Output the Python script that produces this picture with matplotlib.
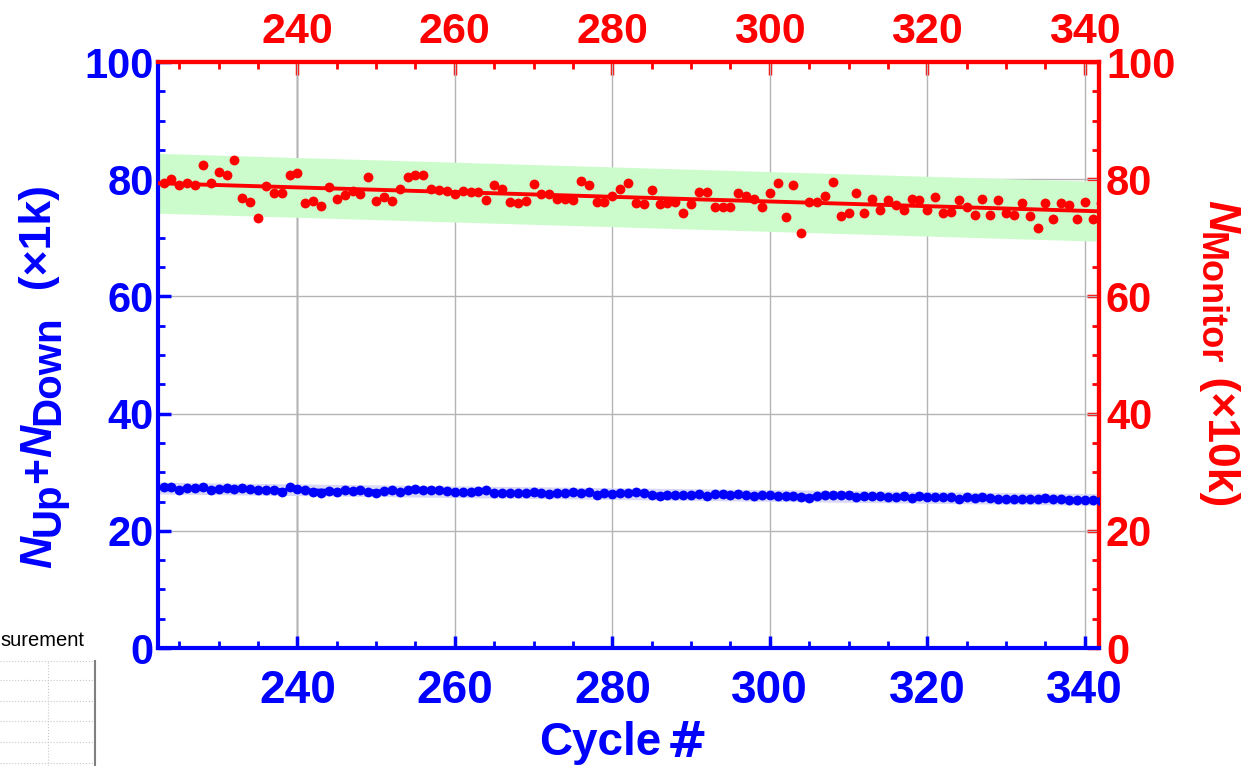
import numpy as np
import matplotlib.pyplot as plt
from matplotlib.ticker import MultipleLocator

plt.rcParams['font.family'] = ['Liberation Sans', 'DejaVu Sans']
plt.rcParams['font.weight'] = 'bold'

cycles = np.arange(223, 343)

monitor = [79.3, 80.0, 79.0, 79.4, 79.1, 82.4, 79.3, 81.2, 80.8, 83.3,
           76.8, 76.2, 73.4, 78.9, 77.6, 77.6, 80.7, 81.1, 76.0, 76.3,
           75.5, 78.6, 76.7, 77.3, 78.0, 77.4, 80.3, 76.3, 77.0, 76.3,
           78.3, 80.3, 80.8, 80.8, 78.4, 78.2, 78.0, 77.4, 78.0, 77.9,
           77.8, 76.5, 79.1, 78.3, 76.1, 75.9, 76.3, 79.2, 77.5, 77.4,
           76.7, 76.7, 76.5, 79.7, 79.0, 76.2, 76.2, 77.2, 78.4, 79.3,
           76.0, 75.8, 78.2, 75.7, 75.9, 76.2, 74.3, 75.8, 77.8, 77.9,
           75.3, 75.3, 75.3, 77.6, 77.1, 76.6, 75.3, 77.6, 79.3, 73.6,
           79.1, 70.8, 76.2, 76.2, 77.2, 79.6, 73.7, 74.3, 77.6, 74.3,
           76.6, 74.7, 76.5, 75.6, 74.7, 76.6, 76.5, 74.7, 77.0, 74.2,
           74.4, 76.5, 75.3, 73.9, 76.6, 73.9, 76.5, 74.2, 73.9, 75.9,
           73.7, 71.6, 76.0, 73.3, 75.9, 75.6, 73.3, 76.2, 73.3, 76.0]

updown = [27.5, 27.4, 27.0, 27.3, 27.3, 27.4, 26.9, 27.2, 27.3, 27.2,
          27.3, 27.2, 27.0, 27.0, 27.0, 26.6, 27.4, 27.1, 26.9, 26.7,
          26.5, 26.8, 26.6, 26.9, 26.8, 27.0, 26.6, 26.5, 26.8, 26.9,
          26.6, 26.9, 27.1, 27.0, 26.9, 26.9, 26.8, 26.6, 26.7, 26.7,
          26.8, 26.9, 26.4, 26.5, 26.4, 26.5, 26.5, 26.6, 26.4, 26.3,
          26.5, 26.5, 26.6, 26.5, 26.6, 26.2, 26.4, 26.3, 26.4, 26.5,
          26.6, 26.5, 26.2, 25.9, 26.2, 26.1, 26.2, 26.1, 26.3, 26.0,
          26.3, 26.3, 26.2, 26.3, 26.2, 26.0, 26.2, 26.1, 26.0, 25.9,
          25.9, 25.8, 25.6, 26.0, 26.1, 26.1, 26.2, 26.1, 25.7, 25.9,
          25.9, 25.9, 25.7, 25.7, 25.9, 25.6, 25.9, 25.7, 25.7, 25.7,
          25.7, 25.5, 25.7, 25.6, 25.8, 25.6, 25.5, 25.5, 25.4, 25.4,
          25.5, 25.4, 25.6, 25.4, 25.4, 25.3, 25.3, 25.2, 25.2, 25.1]

x_ticks = [240, 260, 280, 300, 320, 340]
y_ticks = [0, 20, 40, 60, 80, 100]
red_band = 5.1
blue_band = 1.0

fig = plt.figure(figsize=(12.51, 7.66), dpi=100)
ax = fig.add_axes([0.1263, 0.154, 0.7522, 0.765])

xs = np.linspace(222, 343, 50)
pr = np.polyfit(cycles, monitor, 1)
pb = np.polyfit(cycles, updown, 1)
fr = np.polyval(pr, xs)
fb = np.polyval(pb, xs)

ax.fill_between(xs, fr - red_band, fr + red_band, color='#ccfccc', lw=0, zorder=1)
ax.plot(xs, fr, color='red', lw=2.8, zorder=3)
ax.scatter(cycles, monitor, s=50, color='red', lw=0, zorder=4)

ax.fill_between(xs, fb - blue_band, fb + blue_band, color='#d8d8f6', lw=0, zorder=1)
ax.plot(xs, fb, color='blue', lw=2, zorder=3)
ax.scatter(cycles, updown, s=50, color='blue', lw=0, zorder=4)

ax.set_xlim(222.3, 341.8)
ax.set_ylim(0, 100)
ax.set_xticks(x_ticks)
ax.set_yticks(y_ticks)
ax.xaxis.set_minor_locator(MultipleLocator(5))
ax.yaxis.set_minor_locator(MultipleLocator(5))
ax.grid(True, color='#b4b4b4', lw=1, zorder=0)
ax.axvline(240, color='#505050', lw=1, zorder=0)
ax.set_axisbelow(True)

ax.tick_params(axis='x', which='major', direction='in', length=9, width=2.5, colors='blue',
               labelsize=33, pad=15)
ax.tick_params(axis='y', which='major', direction='in', length=9, width=2.5, colors='blue',
               labelsize=30, pad=3)
ax.tick_params(which='minor', direction='in', length=5, width=2, colors='blue')
for side in ['left', 'bottom']:
    ax.spines[side].set_color('blue')
    ax.spines[side].set_linewidth(3)
for side in ['top', 'right']:
    ax.spines[side].set_color('red')
    ax.spines[side].set_linewidth(3)

top = ax.secondary_xaxis('top')
top.set_xticks(x_ticks)
top.xaxis.set_minor_locator(MultipleLocator(5))
top.tick_params(which='major', direction='in', length=9, width=2.5, colors='red',
                labelsize=31, pad=7)
top.tick_params(which='minor', direction='in', length=5, width=2, colors='red')
top.spines['top'].set_color('red')
top.spines['top'].set_linewidth(3)

right = ax.secondary_yaxis('right')
right.set_yticks(y_ticks)
right.yaxis.set_minor_locator(MultipleLocator(5))
right.tick_params(which='major', direction='in', length=9, width=2.5, colors='red',
                  labelsize=30, pad=5)
right.tick_params(which='minor', direction='in', length=5, width=2, colors='red')
right.spines['right'].set_color('red')
right.spines['right'].set_linewidth(3)

for lab in ax.get_xticklabels() + ax.get_yticklabels() + top.get_xticklabels() + right.get_yticklabels():
    lab.set_fontweight('bold')


def rotated_label(pieces, x, y, rot, color):
    # pieces: (text, size, style, baseline shift in px); each starts where the last ended
    prev = None
    for s, size, style, shift in pieces:
        sx = x + shift / 1251 * (1 if rot == 90 else -1)
        if prev is None:
            xy, coords = (sx, y), 'figure fraction'
        else:
            xy, coords = (sx, 1 if rot == 90 else 0), ('figure fraction', prev)
        prev = ax.annotate(s, xy=xy, xycoords=coords, rotation=rot, rotation_mode='anchor',
                           ha='left', va='baseline', fontsize=size, fontstyle=style,
                           fontweight='bold', color=color, annotation_clip=False)


rotated_label([('N', 32, 'italic', 0), ('Up', 29, 'normal', 8), ('+', 32, 'normal', 0),
               ('N', 32, 'italic', 0), ('Down', 29, 'normal', 8), ('  (×1k)', 32, 'normal', 0)],
              0.041, 0.258, 90, 'blue')
rotated_label([('N', 32, 'italic', 0), ('Monitor', 26, 'normal', 8), (' (×10k)', 32, 'normal', 0)],
              0.9656, 0.739, 270, 'red')

fig.text(0.431, 0.03, 'Cycle', color='blue', fontsize=33, fontweight='bold',
         ha='left', va='center')
fig.text(0.533, 0.03, '#', color='blue', fontsize=35, fontweight='bold',
         ha='left', va='center', family='DejaVu Sans')

# leftover fragment of another window in the lower left corner
fig.text(0.0, 0.164, 'surement', color='black', fontsize=14.5, fontweight='normal',
         ha='left', va='center')
frag = fig.add_axes([0.0, 0.0, 0.076, 0.137])
frag.set_xlim(0, 1)
frag.set_ylim(0, 1)
frag.set_xticks([0.5])
frag.set_yticks([0.03, 0.23, 0.43, 0.62, 0.82, 1.0])
frag.grid(True, color='#c8c8c8', lw=0.8, ls=':')
frag.tick_params(length=0, labelleft=False, labelbottom=False)
for side in ['left', 'top', 'bottom']:
    frag.spines[side].set_visible(False)
frag.spines['right'].set_color('#808080')
frag.spines['right'].set_linewidth(1.5)

fig.savefig('out.png', dpi=100)
